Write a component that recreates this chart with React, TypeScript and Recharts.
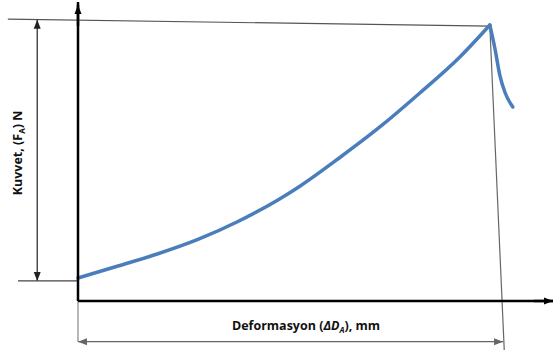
import { Line, LineChart, ReferenceLine, XAxis, YAxis } from "recharts"

// deformation (x) and force (y), in grid units
const deformation = [0, 0.667, 1.333, 2.0, 2.667, 3.333, 3.7, 4.367, 5.033, 5.7, 6.367, 6.867, 6.95, 7.033, 7.117, 7.25]
const force = [0.385, 0.585, 0.79, 1.03, 1.33, 1.69, 1.92, 2.4, 2.91, 3.478, 4.08, 4.615, 4.231, 3.779, 3.495, 3.244]
const xTicks = [1, 2, 3, 4, 5, 6, 7]
const yTicks = [0, 1, 2, 3, 4, 5]

const peakIdx = force.indexOf(Math.max(...force))
// split at the peak so loading and unloading are drawn as separate smooth curves
const data = deformation.map((d, i) => ({
  d,
  up: i <= peakIdx ? force[i] : null,
  down: i >= peakIdx ? force[i] : null,
}))

const peak = { d: deformation[peakIdx], f: force[peakIdx] }
const start = { d: deformation[0], f: force[0] }

function head(tx: number, ty: number, fx: number, fy: number, color: string) {
  const len = Math.hypot(tx - fx, ty - fy) || 1
  const ux = (tx - fx) / len
  const uy = (ty - fy) / len
  const L = 9
  const w = 3.5
  const bx = tx - ux * L
  const by = ty - uy * L
  return (
    <polygon
      points={`${tx},${ty} ${bx - uy * w},${by + ux * w} ${bx + uy * w},${by - ux * w}`}
      fill={color}
    />
  )
}

const dim =
  (opts: { a?: boolean; b?: boolean; color?: string; width?: number }) =>
  (props: any) => {
    const { x1, y1, x2, y2 } = props
    const c = opts.color ?? "#333"
    return (
      <g>
        <line x1={x1} y1={y1} x2={x2} y2={y2} stroke={c} strokeWidth={opts.width ?? 1.2} />
        {opts.a && head(x1, y1, x2, y2, c)}
        {opts.b && head(x2, y2, x1, y1, c)}
      </g>
    )
  }

export default function App() {
  const topLeftX = -1.17
  const dimX = -0.68
  return (
    <div style={{ position: "absolute", left: 0, top: 0, background: "#fff" }}>
      <LineChart width={555} height={355} data={data} margin={{ top: 2, right: 2, left: 0, bottom: 0 }}>
        <XAxis
          type="number"
          dataKey="d"
          domain={[0, 7.92]}
          ticks={xTicks}
          tick={false}
          tickSize={-4}
          height={54}
          axisLine={{ stroke: "#000", strokeWidth: 2.5 }}
          tickLine={{ stroke: "#999" }}
        />
        <YAxis
          type="number"
          domain={[0, 5]}
          ticks={yTicks}
          tick={false}
          tickSize={4}
          width={78}
          axisLine={{ stroke: "#000", strokeWidth: 2.5 }}
          tickLine={{ stroke: "#999" }}
        />
        {/* axis arrows */}
        <ReferenceLine
          segment={[{ x: 7.6, y: 0 }, { x: 7.92, y: 0 }]}
          ifOverflow="visible"
          shape={dim({ b: true, color: "#000", width: 2.5 })}
        />
        <ReferenceLine
          segment={[{ x: 0, y: 4.6 }, { x: 0, y: 4.95 }]}
          ifOverflow="visible"
          shape={dim({ b: true, color: "#000", width: 2.5 })}
        />
        {/* dimension lines */}
        <ReferenceLine
          segment={[{ x: topLeftX, y: peak.f + 0.1 }, { x: peak.d, y: peak.f - 0.02 }]}
          ifOverflow="visible"
          shape={dim({ color: "#555" })}
        />
        <ReferenceLine
          segment={[{ x: dimX, y: peak.f + 0.09 }, { x: dimX, y: start.f - 0.05 }]}
          ifOverflow="visible"
          shape={dim({ a: true, b: true, color: "#222" })}
        />
        <ReferenceLine
          segment={[{ x: -1, y: start.f - 0.05 }, { x: 0, y: start.f - 0.05 }]}
          ifOverflow="visible"
          shape={dim({ color: "#444" })}
        />
        <ReferenceLine
          segment={[{ x: 0, y: 0 }, { x: 0, y: -0.68 }]}
          ifOverflow="visible"
          shape={dim({ color: "#888" })}
        />
        <ReferenceLine
          segment={[{ x: peak.d, y: peak.f - 0.02 }, { x: peak.d + 0.24, y: -0.82 }]}
          ifOverflow="visible"
          shape={dim({ color: "#666" })}
        />
        <ReferenceLine
          segment={[{ x: 0, y: -0.68 }, { x: peak.d + 0.22, y: -0.68 }]}
          ifOverflow="visible"
          shape={dim({ a: true, b: true, color: "#666" })}
        />
        <Line
          type="monotone"
          dataKey="up"
          stroke="#4a7ebb"
          strokeWidth={3.5}
          strokeLinejoin="round"
          strokeLinecap="round"
          dot={false}
          isAnimationActive={false}
        />
        <Line
          type="monotone"
          dataKey="down"
          stroke="#4a7ebb"
          strokeWidth={3.5}
          strokeLinecap="round"
          dot={false}
          isAnimationActive={false}
        />
        <text
          x={306}
          y={330}
          textAnchor="middle"
          fontFamily="'Open Sans', sans-serif"
          fontWeight="bold"
          fontSize={12.5}
          fill="#111"
        >
          Deformasyon (<tspan fontStyle="italic">ΔD</tspan>
          <tspan fontStyle="italic" fontSize={8} dy={3}>A</tspan>
          <tspan dy={-3}>), mm</tspan>
        </text>
        <text
          x={0}
          y={0}
          transform="translate(22,153) rotate(-90)"
          textAnchor="middle"
          fontFamily="'Open Sans', sans-serif"
          fontWeight="bold"
          fontSize={12.5}
          fill="#111"
        >
          Kuvvet, (F<tspan fontSize={8} dy={3}>A</tspan>
          <tspan dy={-3}>) N</tspan>
        </text>
      </LineChart>
    </div>
  )
}
